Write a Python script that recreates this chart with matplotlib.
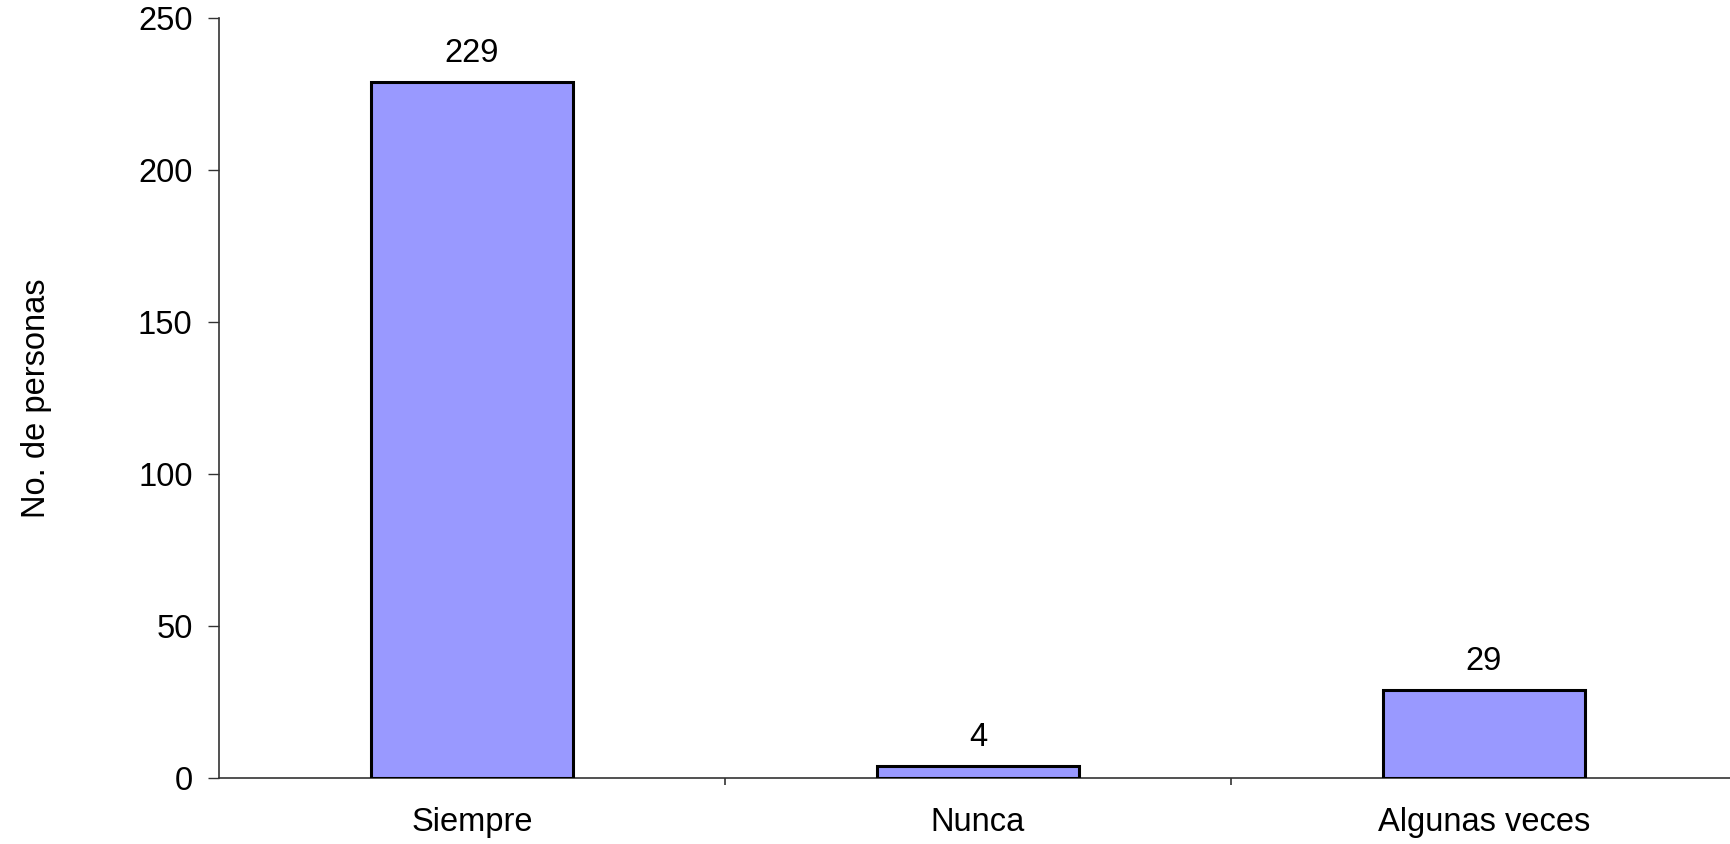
import matplotlib
matplotlib.use("Agg")
import matplotlib.pyplot as plt
import numpy as np

categories = ["Siempre", "Nunca", "Algunas veces"]
personas = [229, 4, 29]
yticks = [0, 50, 100, 150, 200, 250]

plt.rcParams['font.family'] = ['Liberation Sans', 'DejaVu Sans']

fig = plt.figure(figsize=(17.31, 8.44), dpi=100)
# axes runs a little past the right edge of the figure
ax = fig.add_axes([219 / 1731, 1 - 778 / 844, 1518 / 1731, 760 / 844])

x = np.arange(len(categories))
bars = ax.bar(x, personas, width=0.4, color="#9999ff", edgecolor="black",
              linewidth=2.2, zorder=3)

for rect, v in zip(bars, personas):
    ax.annotate(str(v), (rect.get_x() + rect.get_width() / 2, rect.get_height()),
                xytext=(0, 9), textcoords="offset points",
                ha="center", va="bottom", fontsize=23.5)

ax.set_xlim(-0.5, len(categories) - 0.5)
ax.set_ylim(0, 250)
ax.set_yticks(yticks)
ax.tick_params(axis="y", labelsize=23.5, length=8, width=1, pad=11, color="#333333")

ax.set_xticks(x)
ax.set_xticklabels(categories)
ax.tick_params(axis="x", which="major", length=0, labelsize=23.5, pad=21)
ax.set_xticks(np.arange(len(categories)) + 0.5, minor=True)
ax.tick_params(axis="x", which="minor", length=5, width=1.2, color="#333333")

for s in ("top", "right"):
    ax.spines[s].set_visible(False)
for s in ("left", "bottom"):
    ax.spines[s].set_color("#333333")
    ax.spines[s].set_linewidth(1.2)

ax.set_ylabel("No. de personas", fontsize=23.5, labelpad=62)

fig.savefig("out.png", dpi=100)
